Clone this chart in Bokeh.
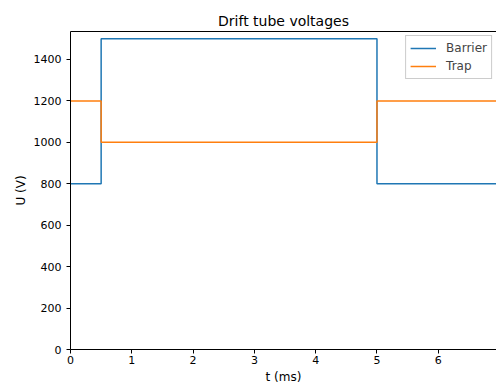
from bokeh.plotting import figure
from bokeh.models import Range1d, LinearAxis, FixedTicker, Legend, LegendItem
from bokeh.embed import file_html
from bokeh.resources import INLINE

# data
t_ms = [0, 0.5, 5, 7]
barrier = [800, 1500, 800, 800]
trap = [1200, 1000, 1200, 1200]
x_ticks = [0, 1, 2, 3, 4, 5, 6]
y_ticks = [0, 200, 400, 600, 800, 1000, 1200, 1400]

FONT = "DejaVu Sans"

p = figure(width=496, height=387, output_backend="svg", toolbar_location=None,
           x_range=Range1d(0, 6.95), y_range=Range1d(0, 1535),
           min_border_left=70, min_border_right=0, min_border_top=31, min_border_bottom=38,
           x_axis_label="t (ms)", y_axis_label="U (V)")
p.title.text = "Drift tube voltages"
p.title.align = "center"
p.title.text_font = FONT
p.title.text_font_size = "14px"
p.title.text_font_style = "normal"
p.title.text_color = "black"
p.title.standoff = 6
p.outline_line_color = None
p.grid.visible = False
p.background_fill_color = "white"

for ax in [p.xaxis[0], p.yaxis[0]]:
    ax.axis_line_color = "black"
    ax.major_tick_line_color = "black"
    ax.major_tick_out = 4
    ax.major_tick_in = 0
    ax.minor_tick_line_color = None
    ax.major_label_text_font = FONT
    ax.major_label_text_font_size = "11px"
    ax.major_label_text_color = "black"
    ax.axis_label_text_font = FONT
    ax.axis_label_text_font_size = "12px"
    ax.axis_label_text_font_style = "normal"
    ax.axis_label_text_color = "black"
p.xaxis[0].ticker = FixedTicker(ticks=x_ticks)
p.yaxis[0].ticker = FixedTicker(ticks=y_ticks)
p.xaxis[0].axis_label_standoff = 3
p.yaxis[0].axis_label_standoff = 3
p.xaxis[0].major_label_standoff = 2
p.yaxis[0].major_label_standoff = 5

top = LinearAxis(major_tick_line_color=None, minor_tick_line_color=None,
                 major_label_text_font_size="0px", axis_line_color="black",
                 ticker=FixedTicker(ticks=[]))
p.add_layout(top, "above")

r1 = p.step(t_ms, barrier, mode="after", line_color="#1f77b4", line_width=1.5)
r2 = p.step(t_ms, trap, mode="after", line_color="#ff7f0e", line_width=1.5)

legend = Legend(items=[LegendItem(label="Barrier", renderers=[r1]),
                       LegendItem(label="Trap", renderers=[r2])],
                location="top_right")
legend.label_text_font = FONT
legend.label_text_font_size = "12px"
legend.border_line_color = "#cccccc"
legend.border_line_alpha = 1
legend.glyph_width = 26
legend.glyph_height = 16
legend.label_height = 16
legend.spacing = 2
legend.padding = 4
legend.margin = 4
legend.label_standoff = 10
p.add_layout(legend)

open("out.html", "w").write(file_html(p, INLINE))
